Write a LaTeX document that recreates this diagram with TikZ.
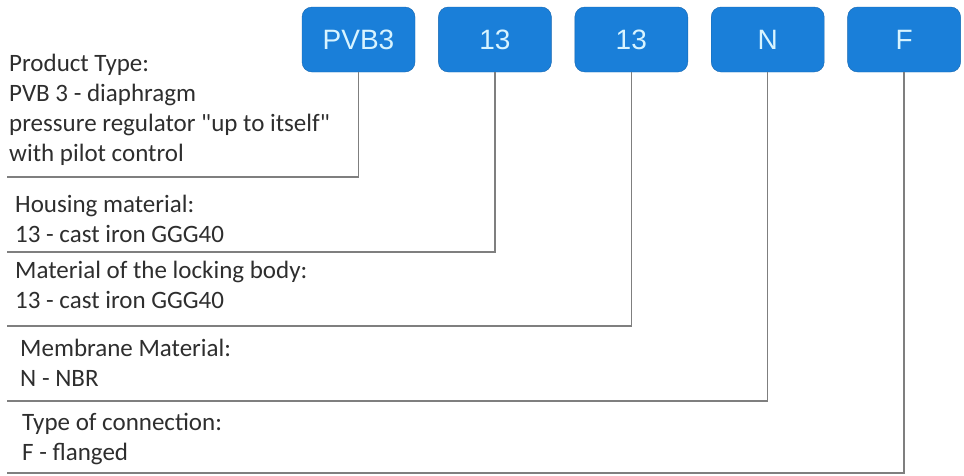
\documentclass[tikz,border=0pt]{standalone}
\usepackage{fontspec}
\setmainfont{Carlito}[Ligatures=TeXOff]
\newfontfamily\boxfont{Liberation Sans}
\usetikzlibrary{positioning}

\definecolor{codeblue}{HTML}{1A7FD9}
\definecolor{codeedge}{HTML}{1566B0}
\definecolor{codetext}{HTML}{D8F4FF}
\definecolor{leadgray}{HTML}{7F7F7F}
\definecolor{desctext}{HTML}{2E2E2E}

\begin{document}
\begin{tikzpicture}[
    x=1pt, y=1pt,
    codebox/.style={draw=codeedge, fill=codeblue, rounded corners=10pt, minimum width=113pt, minimum height=65pt, inner sep=0pt, text=codetext, font=\boxfont\fontsize{28}{32}\selectfont},
    desc/.style={anchor=base west, align=left, inner sep=0pt, text=desctext, font=\fontsize{25}{30}\selectfont},
    leader/.style={draw=leadgray, line width=1.5pt}
]
\useasboundingbox (0,0) rectangle (964,-475);

% ===== Code boxes =====
\node[codebox] (typ) at (358.5,-39.5) {PVB3};
\node[codebox, right=23pt of typ] (hou) {13};
\node[codebox, right=23pt of hou] (loc) {13};
\node[codebox, right=23pt of loc] (mem) {N};
\node[codebox, right=23pt of mem] (con) {F};

% ===== Descriptions (anchored at last baseline) =====
\node[desc] (typtxt) at (9,-161) {Product Type:\\PVB 3 - diaphragm\\pressure regulator "up to itself"\\with pilot control};
\node[desc] (houtxt) at (15,-242) {Housing material:\\13 - cast iron GGG40};
\node[desc] (loctxt) at (15,-308) {Material of the locking body:\\13 - cast iron GGG40};
\node[desc] (memtxt) at (20,-386) {Membrane Material:\\N - NBR};
\node[desc] (contxt) at (22,-460) {Type of connection:\\F - flanged};

% ===== Leader line ends =====
\coordinate (typend) at (7,-177);
\coordinate (houend) at (7,-252);
\coordinate (locend) at (7,-326);
\coordinate (memend) at (7,-401);
\coordinate (conend) at (7,-473);

% ===== Leaders =====
\draw[leader] (typ.south) |- (typend);
\draw[leader] (hou.south) |- (houend);
\draw[leader] (loc.south) |- (locend);
\draw[leader] (mem.south) |- (memend);
\draw[leader] (con.south) |- (conend);

\end{tikzpicture}
\end{document}
